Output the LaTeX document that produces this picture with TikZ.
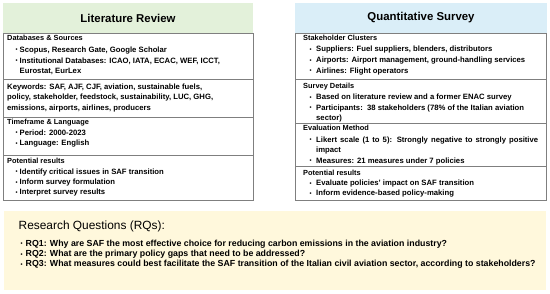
\documentclass[tikz,border=0pt]{standalone}
\usepackage{fontspec}
\setmainfont{Liberation Sans}
\definecolor{litgreen}{HTML}{E3F1DA}
\definecolor{survblue}{HTML}{DAEEF8}
\definecolor{rqyellow}{HTML}{FFF8DC}
\definecolor{boxgray}{HTML}{7F7F7F}
\newcommand\mybul[1]{\makebox[#1][l]{\raisebox{0.5pt}{\fontsize{5.8}{6}\selectfont\textbullet}}}
\begin{document}
\begin{tikzpicture}[x=1pt,y=-1pt,
  hdrbox/.style={inner sep=0pt, minimum height=30pt, font=\fontsize{11.4}{13}\selectfont\bfseries},
  secbox/.style={draw=boxgray, line width=0.8pt, fill=white},
  sechd/.style={anchor=base west, inner sep=0pt, font=\fontsize{7.4}{9}\selectfont\bfseries},
  bline/.style={anchor=base west, inner sep=0pt, font=\fontsize{7.7}{9}\selectfont\bfseries},
  rqtitle/.style={anchor=base west, inner sep=0pt, font=\fontsize{11.9}{13}\selectfont},
  rqline/.style={anchor=base west, inner sep=0pt, font=\fontsize{8.8}{10}\selectfont\bfseries}]
\useasboundingbox (0,0) rectangle (550,294);
\fill[white] (0,0) rectangle (550,294);
% headers
\node[hdrbox, fill=litgreen, minimum width=250pt] (litH) at (128,18) {Literature Review};
\node[hdrbox, fill=survblue, minimum width=252pt] (survH) at (421,18) {Quantitative Survey};
% left sections
\draw[secbox] (3,33) rectangle (253,79);
\draw[secbox] (3,79) rectangle (253,117);
\draw[secbox] (3,117) rectangle (253,155);
\draw[secbox] (3,155) rectangle (253,200);
% right sections
\draw[secbox] (295,33) rectangle (546,79);
\draw[secbox] (295,79) rectangle (546,123);
\draw[secbox] (295,123) rectangle (546,166);
\draw[secbox] (295,166) rectangle (546,200);
% research questions box
\fill[rqyellow] (4,211) rectangle (546,290);

% left column text
\node[sechd] (l1h) at (7,40.7) {Databases \& Sources};
\node[bline] (l1a) at (15.5,52.5) {\mybul{4pt}Scopus, Research Gate, Google Scholar};
\node[bline] (l1b) at (15.5,63.2) {\mybul{4pt}Institutional Databases: ICAO, IATA, ECAC, WEF, ICCT,};
\node[bline] (l1c) at (19.5,73.7) {Eurostat, EurLex};
\node[bline] (l2a) at (7,89.5) {Keywords: SAF, AJF, CJF, aviation, sustainable fuels,};
\node[bline] (l2b) at (7,99.8) {policy, stakeholder, feedstock, sustainability, LUC, GHG,};
\node[bline] (l2c) at (7,110.1) {emissions, airports, airlines, producers};
\node[sechd] (l3h) at (7,124.6) {Timeframe \& Language};
\node[bline] (l3a) at (15.5,135.5) {\mybul{4pt}Period: 2000-2023};
\node[bline] (l3b) at (15.5,145.8) {\mybul{4pt}Language: English};
\node[sechd] (l4h) at (7,163.5) {Potential results};
\node[bline] (l4a) at (15.5,174.5) {\mybul{4pt}Identify critical issues in SAF transition};
\node[bline] (l4b) at (15.5,184.7) {\mybul{4pt}Inform survey formulation};
\node[bline] (l4c) at (15.5,194.8) {\mybul{4pt}Interpret survey results};

% right column text
\node[sechd] (r1h) at (303,40.7) {Stakeholder Clusters};
\node[bline] (r1a) at (309.5,51.8) {\mybul{6.5pt}Suppliers: Fuel suppliers, blenders, distributors};
\node[bline] (r1b) at (309.5,62.6) {\mybul{6.5pt}Airports: Airport management, ground-handling services};
\node[bline] (r1c) at (309.5,73.4) {\mybul{6.5pt}Airlines: Flight operators};
\node[sechd] (r2h) at (303,88.6) {Survey Details};
\node[bline] (r2a) at (309.5,99.8) {\mybul{6.5pt}Based on literature review and a former ENAC survey};
\node[bline] (r2b) at (309.5,110.5) {\mybul{6.5pt}Participants:\ \ 38 stakeholders (78\% of the Italian aviation};
\node[bline] (r2c) at (316,120.2) {sector)};
\node[sechd] (r3h) at (303,130.6) {Evaluation Method};
\node[bline] (r3a) at (309.5,142.3) {\mybul{6.5pt}\makebox[222pt][s]{Likert scale (1 to 5): Strongly negative to strongly positive}};
\node[bline] (r3b) at (316,152.2) {impact};
\node[bline] (r3c) at (309.5,163.5) {\mybul{6.5pt}Measures: 21 measures under 7 policies};
\node[sechd] (r4h) at (303,175.5) {Potential results};
\node[bline] (r4a) at (309.5,185.8) {\mybul{6.5pt}Evaluate policies' impact on SAF transition};
\node[bline] (r4b) at (309.5,195.6) {\mybul{6.5pt}Inform evidence-based policy-making};

% research questions
\node[rqtitle] (rqT) at (18.5,229.5) {Research Questions (RQs):};
\node[rqline] (rq1) at (20.5,246.3) {\mybul{5pt}RQ1: Why are SAF the most effective choice for reducing carbon emissions in the aviation industry?};
\node[rqline] (rq2) at (20.5,256.6) {\mybul{5pt}RQ2: What are the primary policy gaps that need to be addressed?};
\node[rqline] (rq3) at (20.5,266.9) {\mybul{5pt}RQ3: What measures could best facilitate the SAF transition of the Italian civil aviation sector, according to stakeholders?};
\end{tikzpicture}
\end{document}
